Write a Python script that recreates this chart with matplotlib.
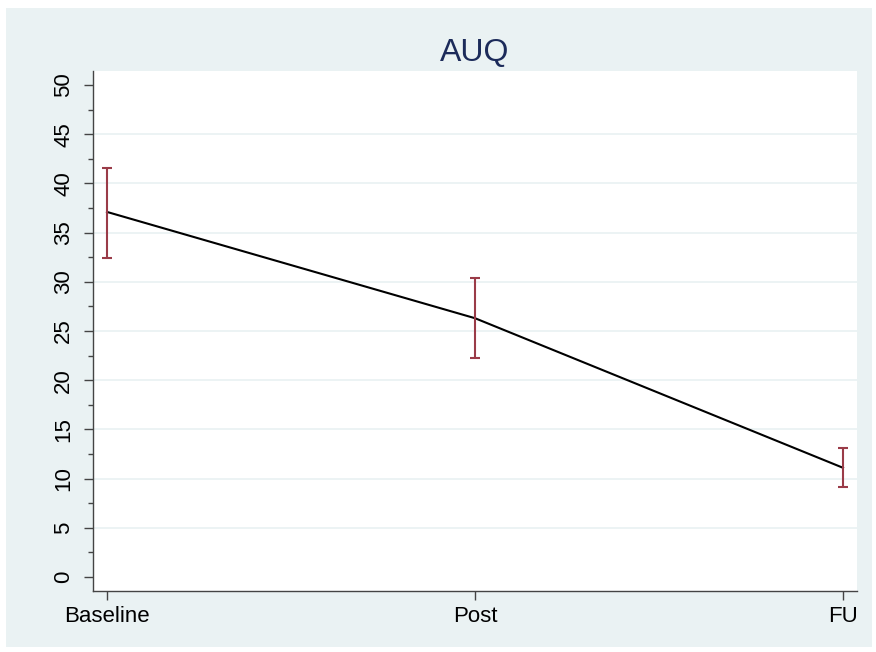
import matplotlib
matplotlib.use("Agg")
import matplotlib.pyplot as plt
from matplotlib.patches import Rectangle

plt.rcParams['font.family'] = ['Liberation Sans', 'DejaVu Sans']

# dados
momentos = ["Baseline", "Post", "FU"]
media = [37.1, 26.3, 11.1]
ic_inferior = [32.4, 22.3, 9.1]
ic_superior = [41.6, 30.4, 13.1]
y_ticks = [0, 5, 10, 15, 20, 25, 30, 35, 40, 45, 50]

fundo = "#eaf2f3"
vinho = "#9a3b48"

fig = plt.figure(figsize=(8.76, 6.52), dpi=100)
fig.patch.set_facecolor("white")
# moldura de fundo (estilo Stata)
fig.patches.append(Rectangle((6 / 876, 5 / 652), 866 / 876, 639 / 652,
                             transform=fig.transFigure, facecolor=fundo,
                             edgecolor="none", zorder=-10))

ax = fig.add_axes([93 / 876, 1 - 591 / 652, 764 / 876, 520 / 652])
ax.set_facecolor("white")
ax.set_zorder(1)

x = list(range(len(momentos)))
ax.plot(x, media, color="black", lw=1.5, zorder=3)
erro_baixo = [m - lo for m, lo in zip(media, ic_inferior)]
erro_cima = [hi - m for m, hi in zip(media, ic_superior)]
ax.errorbar(x, media, yerr=[erro_baixo, erro_cima], fmt="none",
            ecolor=vinho, elinewidth=1.5, capsize=3.3, capthick=1.5, zorder=4)

# grade horizontal
for v in y_ticks[1:-1]:
    ax.axhline(v, color=fundo, lw=1.3, zorder=1)

ax.set_xlim(-0.038, 2.038)
ax.set_ylim(-1.42, 51.42)
ax.set_xticks(x)
ax.set_xticklabels(momentos)
ax.set_yticks(y_ticks)
ax.set_yticklabels([str(v) for v in y_ticks], rotation=90, va="center")
ax.set_yticks([v + 2.5 for v in y_ticks[:-1]], minor=True)

for lado in ["top", "right"]:
    ax.spines[lado].set_visible(False)
for lado in ["left", "bottom"]:
    ax.spines[lado].set_color("#444444")
    ax.spines[lado].set_linewidth(1.0)

ax.tick_params(axis="y", which="major", length=6.5, width=1, color="#444444",
               labelsize=16, pad=7)
ax.tick_params(axis="y", which="minor", length=3.5, width=1, color="#444444")
ax.tick_params(axis="x", which="major", length=6.5, width=1, color="#444444",
               labelsize=16, pad=4)

ax.set_title("AUQ", fontsize=23, color="#1c2b5a", pad=7)

fig.savefig("out.png", dpi=100, facecolor=fig.get_facecolor())
